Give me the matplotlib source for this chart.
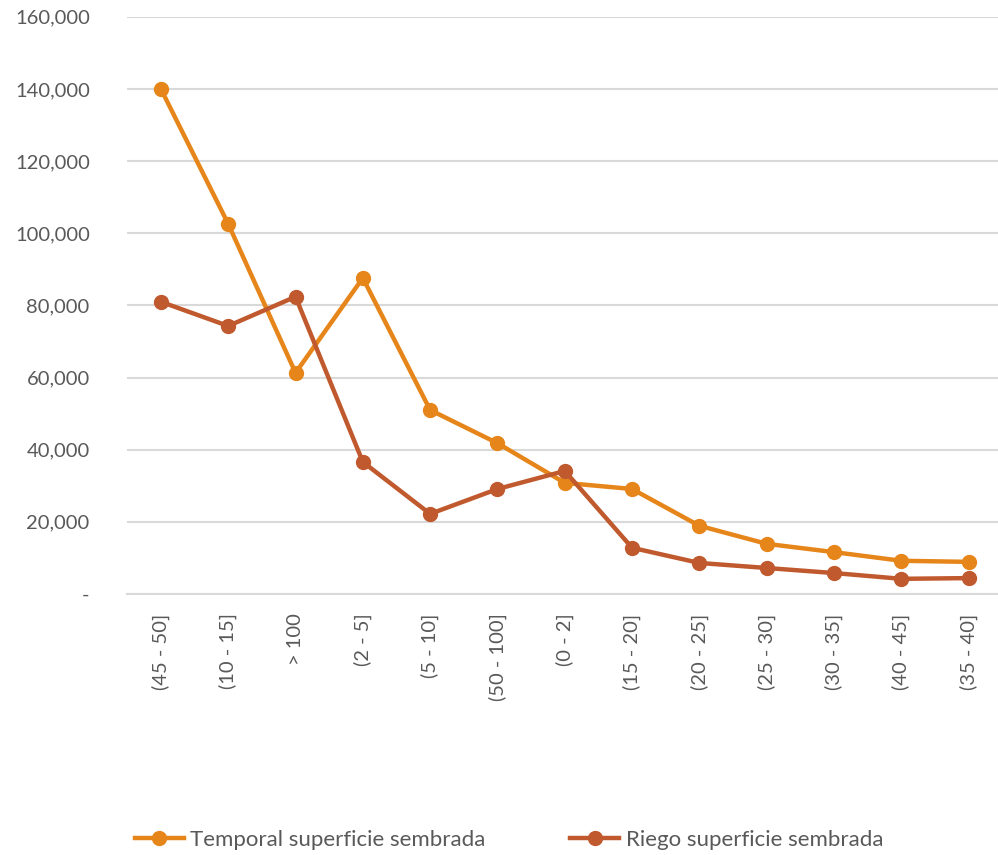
import numpy as np
import matplotlib.pyplot as plt
from matplotlib.ticker import FuncFormatter

categorias = ["(45 - 50]", "(10 - 15]", "> 100", "(2 - 5]", "(5 - 10]", "(50 - 100]",
              "(0 - 2]", "(15 - 20]", "(20 - 25]", "(25 - 30]", "(30 - 35]", "(40 - 45]", "(35 - 40]"]
temporal = [140000, 102600, 61300, 87600, 51000, 41800, 30800, 29100, 18900, 13900, 11600, 9200, 8900]
riego = [81000, 74300, 82400, 36600, 22200, 29100, 34100, 12800, 8600, 7200, 5800, 4200, 4400]

plt.rcParams['font.family'] = ['Lato', 'DejaVu Sans']

fig = plt.figure(figsize=(9.98, 8.55), dpi=100)
ax = fig.add_axes([0.1275, 0.3053, 0.8768, 0.675])

x = np.arange(len(categorias))
ax.plot(x, temporal, color='#E6861A', lw=3.2, marker='o', ms=10, label='Temporal superficie sembrada', zorder=3)
ax.plot(x, riego, color='#C05A2E', lw=3.2, marker='o', ms=10, label='Riego superficie sembrada', zorder=4)

ax.set_xlim(-0.5, len(categorias) - 0.5)
ax.set_ylim(0, 160000)
ax.set_yticks(np.arange(0, 160001, 20000))
ax.yaxis.set_major_formatter(FuncFormatter(lambda v, p: '-' if v == 0 else f'{int(v):,}'))
ax.set_xticks(x)
ax.set_xticklabels(categorias, rotation=90)
ax.grid(axis='y', color='#D9D9D9', lw=1.5)
ax.set_axisbelow(True)
for s in ['top', 'right', 'left']:
    ax.spines[s].set_visible(False)
ax.spines['bottom'].set_color('#D9D9D9')
ax.spines['bottom'].set_linewidth(1.5)
ax.tick_params(length=0, labelsize=14.5, colors='#595959', pad=14)
ax.tick_params(axis='y', pad=27)

fig.legend(loc='center', bbox_to_anchor=(0.51, 0.018), ncol=2, frameon=False,
           fontsize=16, labelcolor='#595959', handlelength=2.2, handletextpad=0.3,
           columnspacing=3.8)

fig.savefig('out.png', dpi=100)
